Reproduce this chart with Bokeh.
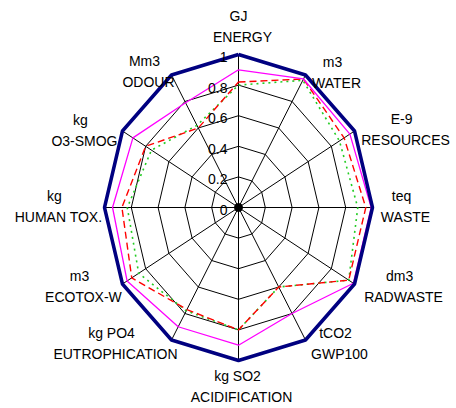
import math
from bokeh.plotting import figure
from bokeh.models import Range1d, ColumnDataSource
from bokeh.core.properties import value
from bokeh.embed import file_html
from bokeh.resources import INLINE

# ---------------- data ----------------
units = ["GJ", "m3", "E-9", "teq", "dm3", "tCO2", "kg SO2", "kg PO4", "m3", "kg", "kg", "Mm3"]
names = ["ENERGY", "WATER", "RESOURCES", "WASTE", "RADWASTE", "GWP100", "ACIDIFICATION",
         "EUTROPHICATION", "ECOTOX-W", "HUMAN TOX.", "O3-SMOG", "ODOUR"]
reference = [1.0, 1.0, 1.0, 1.0, 1.0, 1.0, 1.0, 1.0, 1.0, 1.0, 1.0, 1.0]
series_magenta = [0.90, 0.97, 0.96, 0.99, 0.99, 0.80, 0.90, 0.90, 0.96, 0.94, 0.91, 0.79]
series_red = [0.82, 0.97, 0.91, 0.95, 0.95, 0.60, 0.80, 0.77, 0.92, 0.87, 0.80, 0.60]
series_green = [0.80, 0.96, 0.87, 0.89, 0.95, 0.60, 0.80, 0.78, 0.86, 0.83, 0.75, 0.62]
tick_values = [0, 0.2, 0.4, 0.6, 0.8, 1]
tick_labels = ["0", "0.2", "0.4", "0.6", "0.8", "1"]

# ---------------- layout ----------------
W, H = 456, 408
CX, CY = 238, 207          # centre of the radar in figure pixels
RX, RY = 134, 153          # pixels per unit radius (horizontal / vertical)
label_dx = [4, 31, 51, 33, 49, 34, 3, -56, -39, -46, -38, -23]
label_dy = [-28, -2.5, -1.5, -1, 2.5, 3.5, 26, 3.5, 2.5, -1, -0.5, -3.5]
FONT = value("Liberation Sans")

n = len(names)
angles = [2 * math.pi * i / n for i in range(n)]


def polar(vals):
    xs = [v * math.sin(a) for v, a in zip(vals, angles)]
    ys = [v * math.cos(a) for v, a in zip(vals, angles)]
    return xs + xs[:1], ys + ys[:1]


p = figure(width=W, height=H, output_backend="svg", toolbar_location=None,
           x_range=Range1d(-CX / RX, (W - CX) / RX),
           y_range=Range1d(-(H - CY) / RY, CY / RY),
           x_axis_location=None, y_axis_location=None, min_border=0)
p.grid.visible = False
p.outline_line_color = None
p.background_fill_color = "white"

# rings
for t in tick_values[1:-1]:
    xs, ys = polar([t] * n)
    p.line(xs, ys, line_color="black", line_width=1)

# spokes
p.multi_line([[0, math.sin(a)] for a in angles], [[0, math.cos(a)] for a in angles],
             line_color="black", line_width=1)

# series
xs, ys = polar(series_green)
p.line(xs, ys, line_color="#22cc22", line_width=1.6, line_dash="2 4")
xs, ys = polar(series_red)
p.line(xs, ys, line_color="#ff0000", line_width=1.4, line_dash="7 4")
xs, ys = polar(series_magenta)
p.line(xs, ys, line_color="#ff00ff", line_width=1.3)
xs, ys = polar(reference)
p.line(xs, ys, line_color="#000080", line_width=3.5)

p.scatter([0], [0], size=8, color="black")

# tick labels
p.text(x=[0] * len(tick_values), y=tick_values, text=tick_labels,
       text_align="right", text_baseline="middle", x_offset=-11, y_offset=2.5,
       text_font=FONT, text_font_size="14px", text_color="black")

# axis labels
vx = [math.sin(a) for a in angles]
vy = [math.cos(a) for a in angles]
src = ColumnDataSource(dict(
    x=vx, y=vy, unit=units, name=names,
    dx_u=[d - 4 for d in label_dx], dx_n=label_dx,
    dy_u=[d - 10.5 for d in label_dy], dy_n=[d + 10.5 for d in label_dy]))
p.text(x="x", y="y", text="unit", source=src, x_offset="dx_u", y_offset="dy_u",
       text_align="center", text_baseline="middle",
       text_font=FONT, text_font_size="14px", text_color="black")
p.text(x="x", y="y", text="name", source=src, x_offset="dx_n", y_offset="dy_n",
       text_align="center", text_baseline="middle",
       text_font=FONT, text_font_size="14px", text_color="black")

open("out.html", "w").write(file_html(p, INLINE))
